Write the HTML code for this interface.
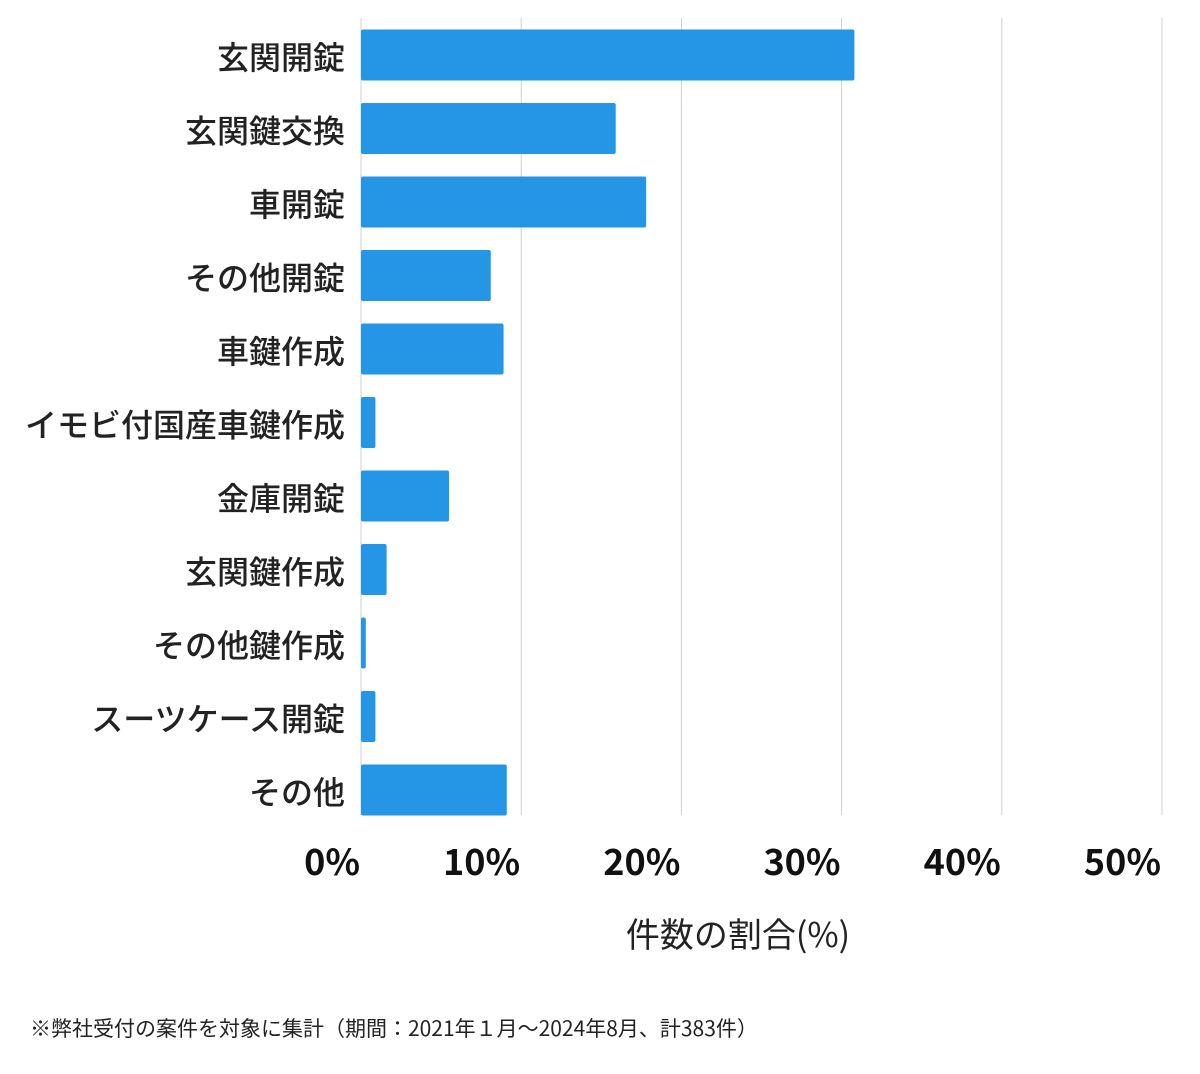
<!DOCTYPE html>
<html><head><meta charset="utf-8"><style>
body{margin:0;background:#fff;}
svg text{font-family:"Noto Sans CJK JP","Liberation Sans",sans-serif;}
</style></head><body>
<svg id="chart" width="1200" height="1069" xmlns="http://www.w3.org/2000/svg">
<g id="grid"></g>
<g id="bars"></g>
<g id="cats"></g>
<g id="ticks"></g>
<text x="738" y="947" font-size="34" text-anchor="middle" fill="#222">件数の割合(%)</text>
<text x="30" y="1036" font-size="21" fill="#222">※弊社受付の案件を対象に集計（期間：2021年１月～2024年8月、計383件）</text>
</svg>
<script>
const categories=["玄関開錠","玄関鍵交換","車開錠","その他開錠","車鍵作成","イモビ付国産車鍵作成","金庫開錠","玄関鍵作成","その他鍵作成","スーツケース開錠","その他"];
const values=[30.8,15.9,17.8,8.1,8.9,0.9,5.5,1.6,0.3,0.9,9.1];
const tickValues=[0,10,20,30,40,50];
const tickLabels=["0%","10%","20%","30%","40%","50%"];
const NS="http://www.w3.org/2000/svg";
const x0=361,x1=1162,plotTop=18,plotBottom=815,step=73.5,firstCenter=55,bh=51;
const xs=v=>x0+(x1-x0)*v/50;
const yc=i=>firstCenter+i*step;
function mk(t,a,p){const e=document.createElementNS(NS,t);for(const k in a)e.setAttribute(k,a[k]);p.appendChild(e);return e;}
const g=document.getElementById('grid'),b=document.getElementById('bars'),c=document.getElementById('cats'),tk=document.getElementById('ticks');
tickValues.forEach((v,i)=>{
 const l=mk('line',{x1:xs(v),x2:xs(v),y1:plotTop,y2:plotBottom,stroke:'#d0d0d0','stroke-width':1},g);
 
 
 const t=mk('text',{x:xs(v)-1,y:875,'font-size':36,'font-weight':'bold','text-anchor':'end',fill:'#111'},tk);
 t.textContent=tickLabels[i];
 
 
});
categories.forEach((cat,i)=>{
 const r=mk('rect',{x:x0,y:yc(i)-bh/2,width:Math.max(xs(values[i])-x0,1),height:bh,rx:2,fill:'#2596e6'},b);
 
 
 const t=mk('text',{x:345,y:yc(i)+14,'font-size':32,'font-weight':'500','text-anchor':'end',fill:'#222'},c);
 t.textContent=cat;
 
 
});
</script>
</body></html>
